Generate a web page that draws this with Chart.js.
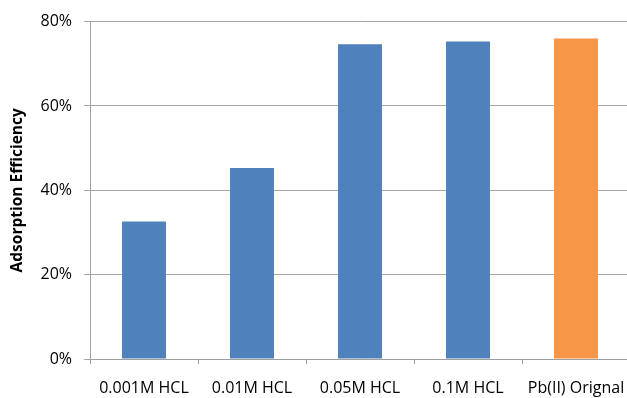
<!DOCTYPE html>
<html>
<head>
<meta charset="utf-8">
<script src="https://cdn.jsdelivr.net/npm/chart.js@4/dist/chart.umd.min.js"></script>
<style>
  html, body { margin: 0; padding: 0; background: #fff; overflow: hidden; }
  #wrap { width: 630px; height: 398px; }
</style>
</head>
<body>
<div id="wrap"><canvas id="c"></canvas></div>
<script>
// Adsorption efficiency per eluent condition
const categories = ['0.001M HCL', '0.01M HCL', '0.05M HCL', '0.1M HCL', 'Pb(II) Orignal'];
const efficiency = [32.6, 45.3, 74.6, 75.3, 76.0];
const barColors = ['#4f81bd', '#4f81bd', '#4f81bd', '#4f81bd', '#f79646'];
const yTicks = [0, 20, 40, 60, 80];

const tickFont = { family: 'Open Sans', size: 16 };

new Chart(document.getElementById('c'), {
  type: 'bar',
  data: {
    labels: categories,
    datasets: [{
      data: efficiency,
      backgroundColor: barColors,
      borderWidth: 0,
      categoryPercentage: 1,
      barPercentage: 0.407
    }]
  },
  options: {
    responsive: true,
    maintainAspectRatio: false,
    animation: false,
    layout: { padding: { top: 20, right: 0, left: 0, bottom: 0 } },
    plugins: { legend: { display: false }, tooltip: { enabled: false } },
    scales: {
      x: {
        grid: { drawOnChartArea: false, drawTicks: true, tickLength: 5, color: '#a0a0a0', offset: true },
        border: { color: '#a0a0a0', width: 1 },
        ticks: { color: '#000', font: tickFont, padding: 15, maxRotation: 0, autoSkip: false },
        afterFit: (s) => { s.height = 39; s.paddingLeft = 0; s.paddingRight = 0; }
      },
      y: {
        min: 0, max: 80,
        afterBuildTicks: (s) => { s.ticks = yTicks.map(v => ({ value: v })); },
        grid: { color: '#a6a6a6', lineWidth: 1, tickLength: 6 },
        border: { color: '#a0a0a0', width: 1 },
        ticks: { color: '#000', font: tickFont, padding: 12, callback: (v) => v + '%' },
        title: {
          display: true,
          text: 'Adsorption Efficiency',
          color: '#000',
          font: { family: 'Open Sans', size: 15.5, weight: 'bold' },
          padding: { top: 8, bottom: 0 }
        },
        afterFit: (s) => { s.width = 90; }
      }
    }
  }
});
</script>
</body>
</html>
